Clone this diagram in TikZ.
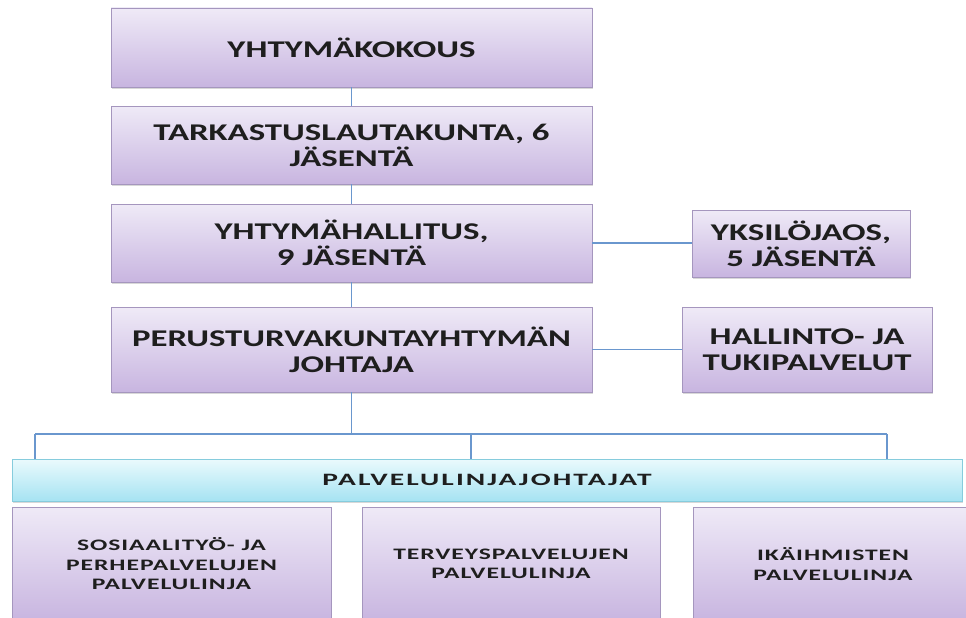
\documentclass[tikz,border=0pt]{standalone}
\usepackage{fontspec}
\setmainfont[FakeStretch=1.45]{Carlito}
\newfontfamily\bandf[FakeStretch=1.7,LetterSpace=12]{Carlito}
\newfontfamily\smallf[FakeStretch=1.6,LetterSpace=6]{Carlito}
\usetikzlibrary{shadows}
\definecolor{boxtop}{HTML}{EFEAF7}
\definecolor{boxbot}{HTML}{C8B5E0}
\definecolor{boxedge}{HTML}{A596BE}
\definecolor{bandtop}{HTML}{EAFAFD}
\definecolor{bandbot}{HTML}{A6E3F2}
\definecolor{bandedge}{HTML}{86CCDD}
\definecolor{linec}{HTML}{6A97CE}
\definecolor{txt}{HTML}{1E1E1E}
\begin{document}
\begin{tikzpicture}[x=0.75pt,y=-0.75pt,
  pbox/.style={draw=boxedge, line width=0.6pt, top color=boxtop, bottom color=boxbot,
    align=center, text=txt, inner sep=0pt,
    font=\bfseries\fontsize{18}{19.5}\selectfont,
    drop shadow={opacity=0.3, shadow xshift=1pt, shadow yshift=-1.5pt}},
  sbox/.style={pbox, font=\smallf\bfseries\fontsize{12}{14.6}\selectfont},
  bandbox/.style={draw=bandedge, line width=0.6pt, top color=bandtop, bottom color=bandbot,
    align=center, text=txt, inner sep=0pt, font=\bandf\bfseries\fontsize{13}{15}\selectfont,
    drop shadow={opacity=0.3, shadow xshift=1pt, shadow yshift=-1.5pt}},
  sz/.style 2 args={minimum width=#1*0.75pt, minimum height=#2*0.75pt},
  conn/.style={draw=linec, line width=0.8pt}]
\useasboundingbox (0,0) rectangle (966,617);
\clip (0,0) rectangle (966,617);
\fill[white] (0,0) rectangle (966,617);

\node[pbox, sz={481}{79}] (b1) at (351.5,47.5) {YHTYMÄKOKOUS};
\node[pbox, sz={481}{78}] (b2) at (351.5,145) {TARKASTUSLAUTAKUNTA, 6\\JÄSENTÄ};
\node[pbox, sz={481}{78}] (b3) at (351.5,243) {YHTYMÄHALLITUS,\\9 JÄSENTÄ};
\node[pbox, sz={218}{67}] (yk) at (801,243.5) {YKSILÖJAOS,\\5 JÄSENTÄ};
\node[pbox, sz={481}{85}] (b4) at (351.5,349.5) {PERUSTURVAKUNTAYHTYMÄN\\JOHTAJA};
\node[pbox, sz={250}{85}] (hal) at (807,349.5) {HALLINTO- JA\\TUKIPALVELUT};
\node[bandbox, sz={950}{42}] (band) at (487,480) {PALVELULINJAJOHTAJAT};
\node[sbox, sz={319}{114}] (s1) at (171.5,564) {SOSIAALITYÖ- JA\\PERHEPALVELUJEN\\PALVELULINJA};
\node[sbox, sz={298}{114}] (s2) at (511,564) {TERVEYSPALVELUJEN\\PALVELULINJA};
\node[sbox, sz={280}{114}] (s3) at (833,564) {IKÄIHMISTEN\\PALVELULINJA};

\coordinate (busC) at (351.5,434);
\coordinate (bL) at (35,434);
\coordinate (bM) at (471,434);
\coordinate (bR) at (887,434);

\draw[conn] (b1.south) -- (b2.north);
\draw[conn] (b2.south) -- (b3.north);
\draw[conn] (b3.south) -- (b4.north);
\draw[conn] (b3.east) -- (b3.east -| yk.west);
\draw[conn] (b4.east) -- (hal.west);
\draw[conn] (b4.south) -- (busC);
\draw[conn] (bL) -- (bR);
\draw[conn] (bL) -- (bL |- band.north);
\draw[conn] (bM) -- (bM |- band.north);
\draw[conn] (bR) -- (bR |- band.north);
\end{tikzpicture}
\end{document}
